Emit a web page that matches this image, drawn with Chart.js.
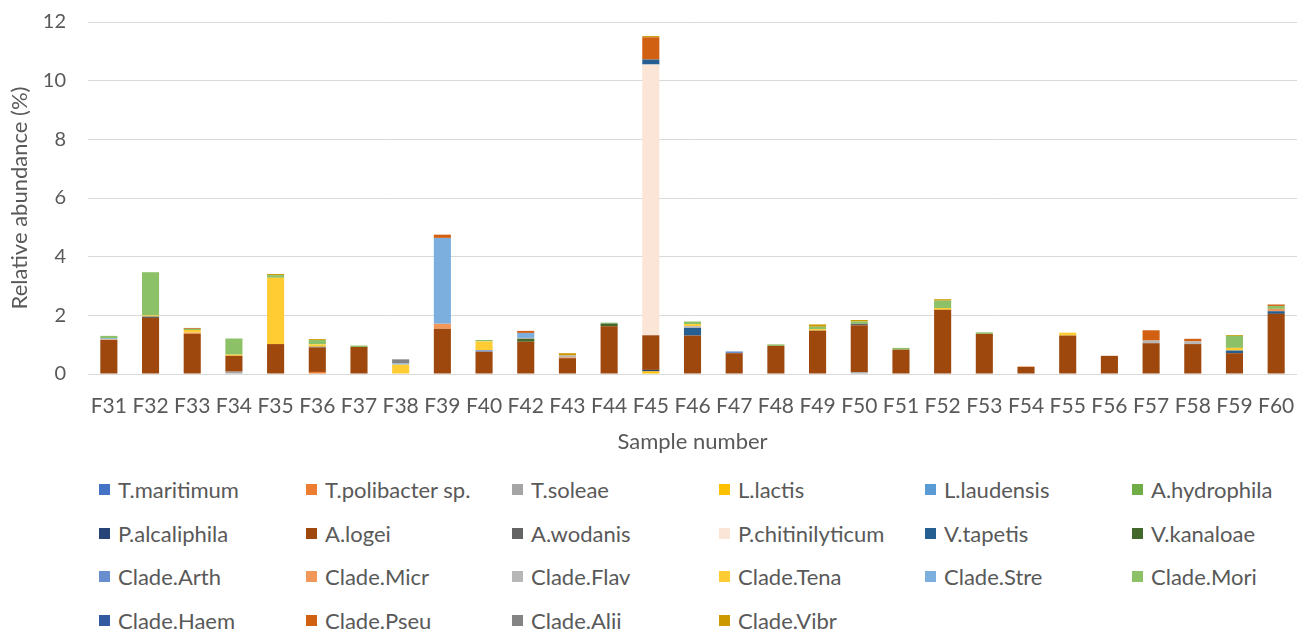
<!DOCTYPE html>
<html>
<head>
<meta charset="utf-8">
<script src="https://cdn.jsdelivr.net/npm/chart.js@4.4.0/dist/chart.umd.min.js"></script>
<style>
  html, body { margin: 0; padding: 0; background: #fff; }
  #wrap { position: relative; width: 1297px; height: 633px; font-family: Lato, 'Open Sans', sans-serif; }
  #chartBox { position: absolute; left: 0; top: 0; width: 1297px; height: 465px; }
  .lg { position: absolute; display: flex; align-items: center; font-size: 22px; color: #595959; white-space: nowrap; }
  .lg i { display: inline-block; width: 11px; height: 11px; margin-right: 8px; }
</style>
</head>
<body>
<div id="wrap">
  <div id="chartBox"><canvas id="c" width="1297" height="465"></canvas></div>
  <div id="legend"></div>
</div>
<script>
const categories = ['F31','F32','F33','F34','F35','F36','F37','F38','F39','F40','F42','F43','F44','F45','F46','F47','F48','F49','F50','F51','F52','F53','F54','F55','F56','F57','F58','F59','F60'];
const yTicks = [0, 2, 4, 6, 8, 10, 12];

// values per sample, order follows categories
const tMaritimum     = [0,0,0,0,0,0,0,0,0,0,0,0,0,0,0,0,0,0,0,0,0,0,0,0,0,0,0,0,0];
const tPolibacter    = [0,0,0,0,0,0.07,0,0,0,0,0,0,0,0,0,0,0,0,0,0,0,0,0,0,0,0,0,0,0];
const tSoleae        = [0,0,0,0.08,0,0,0,0,0,0,0,0,0,0,0,0,0,0,0.06,0,0,0,0,0,0,0,0,0,0];
const lLactis        = [0,0,0,0,0,0,0,0,0,0,0,0,0,0.09,0,0,0,0,0,0,0,0,0,0,0,0,0,0,0];
const lLaudensis     = [0,0,0,0,0,0,0,0,0,0,0,0,0,0,0,0,0,0,0,0,0,0,0,0,0,0,0,0,0];
const aHydrophila    = [0,0,0,0,0,0,0,0,0,0,0,0,0,0,0,0,0,0,0,0,0,0,0,0,0,0,0,0,0];
const pAlcaliphila   = [0,0,0,0,0,0,0,0,0,0,0,0,0,0.05,0,0,0,0,0,0,0,0,0,0,0,0,0,0,0];
const aLogei         = [1.16,1.91,1.37,0.54,1.02,0.83,0.92,0,1.54,0.76,1.10,0.54,1.63,1.18,1.31,0.71,0.96,1.48,1.60,0.83,2.19,1.37,0.24,1.31,0.62,1.05,1.02,0.71,2.05];
const aWodanis       = [0,0.05,0,0,0,0.03,0,0,0,0,0,0,0,0,0,0,0,0,0.05,0,0,0,0,0,0,0,0,0,0];
const pChitinilyt    = [0,0,0,0,0,0,0,0,0,0,0,0,0,9.23,0,0,0,0,0,0,0,0,0,0,0,0,0,0,0];
const vTapetis       = [0,0,0,0,0,0,0,0,0,0,0,0,0,0.17,0.26,0,0,0,0,0,0,0,0,0,0,0,0,0.09,0.09];
const vKanaloae      = [0,0,0,0,0,0,0,0,0,0,0.10,0,0.09,0,0,0,0,0,0,0,0,0,0,0,0,0,0,0,0];
const cladeArth      = [0,0,0,0,0,0,0,0,0,0.05,0,0,0,0,0,0.06,0,0,0,0,0,0,0,0,0,0,0,0,0];
const cladeMicr      = [0.02,0,0.04,0,0,0,0,0,0.17,0,0,0.03,0,0,0,0,0,0,0,0,0,0,0.02,0,0,0,0,0,0.08];
const cladeFlav      = [0,0,0,0,0,0,0,0,0,0,0.03,0.06,0,0,0.06,0,0,0,0,0,0,0,0,0,0,0.09,0.09,0,0];
const cladeTena      = [0,0.04,0.09,0.04,2.26,0.08,0,0.32,0,0.30,0,0,0,0,0.07,0,0,0.05,0,0,0.06,0,0,0.10,0,0,0,0.09,0];
const cladeStre      = [0.04,0,0,0,0,0,0,0.04,2.93,0,0.17,0,0,0,0,0,0,0,0,0,0,0,0,0,0,0,0,0,0];
const cladeMori      = [0.08,1.47,0.04,0.55,0.09,0.15,0.05,0,0,0.05,0,0,0.03,0,0.09,0,0.05,0.08,0.08,0.06,0.25,0.05,0,0,0,0,0,0.41,0.10];
const cladeHaem      = [0,0,0,0,0,0,0,0,0,0,0,0,0,0,0,0,0,0,0,0,0,0,0,0,0,0,0,0,0];
const cladePseu      = [0,0,0.03,0,0,0,0,0,0.11,0,0.07,0,0,0.76,0,0,0,0,0,0,0,0,0,0,0,0.35,0.09,0,0.05];
const cladeAlii      = [0,0,0,0,0,0,0,0.14,0,0,0,0,0,0,0,0,0,0,0,0,0,0,0,0,0,0,0,0,0];
const cladeVibr      = [0,0,0,0,0.04,0.03,0,0,0,0,0,0.08,0,0.04,0,0,0,0.08,0.05,0,0.05,0,0,0,0,0,0,0.03,0];

const seriesNames = ['T.maritimum','T.polibacter sp.','T.soleae','L.lactis','L.laudensis','A.hydrophila',
  'P.alcaliphila','A.logei','A.wodanis','P.chitinilyticum','V.tapetis','V.kanaloae',
  'Clade.Arth','Clade.Micr','Clade.Flav','Clade.Tena','Clade.Stre','Clade.Mori',
  'Clade.Haem','Clade.Pseu','Clade.Alii','Clade.Vibr'];
const seriesValues = [tMaritimum, tPolibacter, tSoleae, lLactis, lLaudensis, aHydrophila,
  pAlcaliphila, aLogei, aWodanis, pChitinilyt, vTapetis, vKanaloae,
  cladeArth, cladeMicr, cladeFlav, cladeTena, cladeStre, cladeMori,
  cladeHaem, cladePseu, cladeAlii, cladeVibr];
const seriesColors = ['#4472C4','#ED7D31','#A5A5A5','#FFC000','#5B9BD5','#70AD47',
  '#264478','#9E480E','#636363','#FBE5D6','#255E91','#43682B',
  '#698ED0','#F1975A','#B7B7B7','#FFCD33','#7CAFDD','#8CC168',
  '#335AA1','#D26012','#848484','#CC9A00'];

const FONT = 'Lato, "Open Sans", sans-serif';
const TXT = '#595959';
const GRID = '#D9D9D9';

new Chart(document.getElementById('c'), {
  type: 'bar',
  data: {
    labels: categories,
    datasets: seriesNames.map((name, i) => ({
      label: name,
      data: seriesValues[i],
      backgroundColor: seriesColors[i],
      borderWidth: 0,
      barPercentage: 0.41,
      categoryPercentage: 1,
    })),
  },
  options: {
    responsive: false,
    animation: false,
    layout: { padding: { top: 22, right: 0, left: 0, bottom: 0 } },
    plugins: { legend: { display: false }, tooltip: { enabled: false } },
    scales: {
      x: {
        stacked: true,
        grid: { display: false },
        border: { color: GRID, width: 1 },
        ticks: { color: TXT, font: { family: FONT, size: 21 }, padding: 12, maxRotation: 0, autoSkip: false },
        title: { display: true, text: 'Sample number', color: TXT, font: { family: FONT, size: 22 }, padding: { top: 4, bottom: 10 } },
        afterFit: (s) => { s.height = 91; s.paddingLeft = 0; s.paddingRight = 0; },
      },
      y: {
        stacked: true,
        min: 0,
        max: 12,
        afterBuildTicks: (s) => { s.ticks = yTicks.map((v) => ({ value: v })); },
        grid: { color: GRID, lineWidth: 1, drawTicks: false },
        border: { display: false },
        ticks: { color: TXT, font: { family: FONT, size: 20 }, padding: 22 },
        title: { display: true, text: 'Relative abundance (%)', color: TXT, font: { family: FONT, size: 22 }, padding: { top: 7, bottom: 0 } },
        afterFit: (s) => { s.width = 88; s.paddingTop = 0; s.paddingBottom = 0; },
      },
    },
  },
});

// legend: 6 columns, rows of 6
const legend = document.getElementById('legend');
const colX = [99, 306, 512, 719, 925, 1132];
const rowY = [489, 533, 576, 620];
seriesNames.forEach((name, i) => {
  const el = document.createElement('div');
  el.className = 'lg';
  el.style.left = colX[i % 6] + 'px';
  el.style.top = (rowY[Math.floor(i / 6)] - 13) + 'px';
  el.style.height = '26px';
  el.innerHTML = `<i style="background:${seriesColors[i]}"></i>${name}`;
  legend.appendChild(el);
});
</script>
</body>
</html>
